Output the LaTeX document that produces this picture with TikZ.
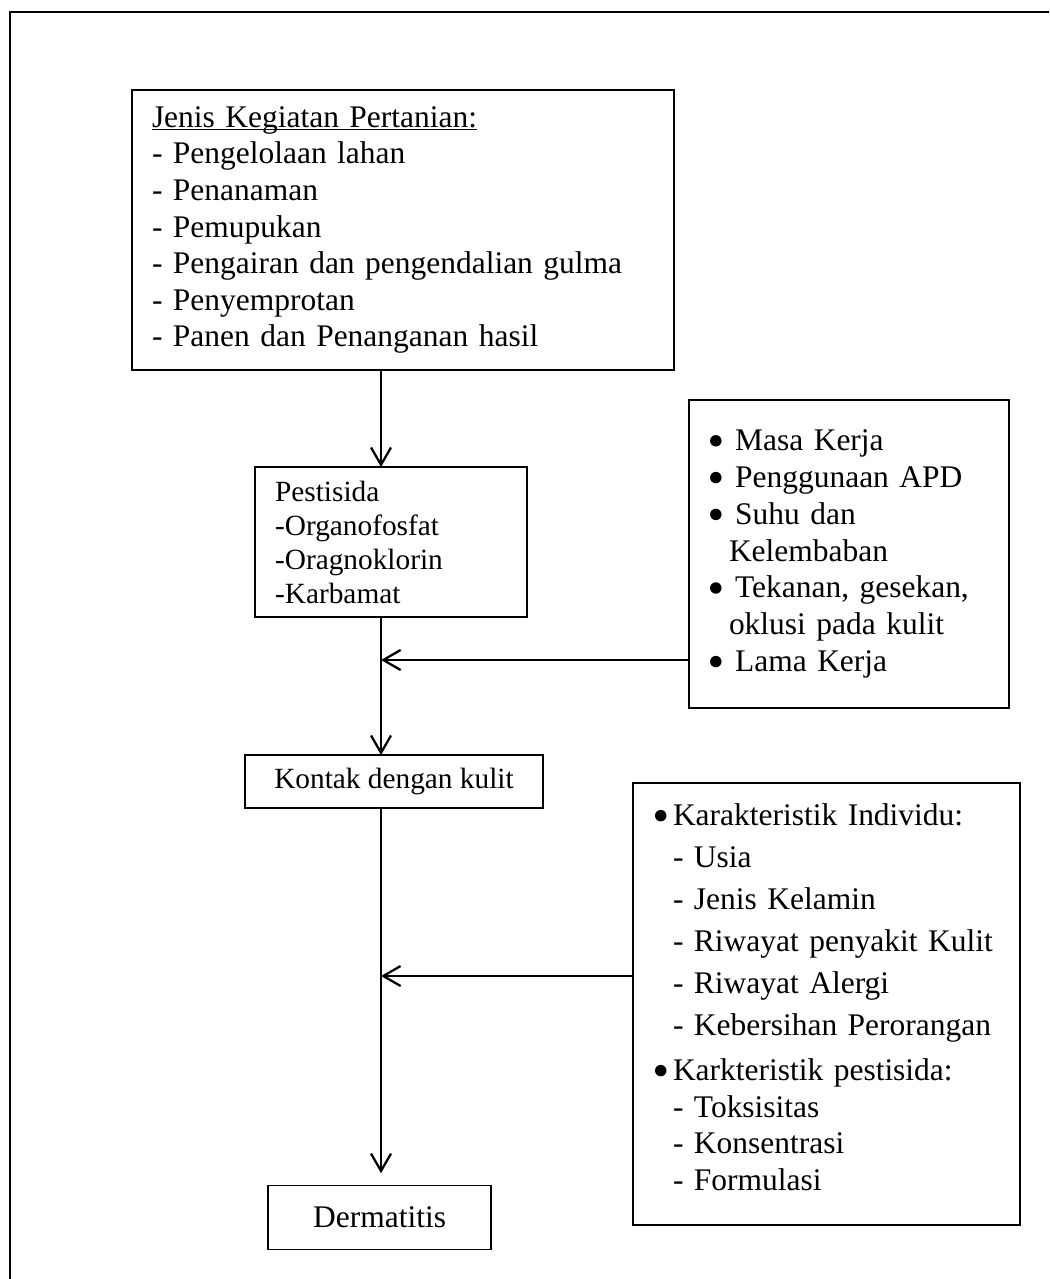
\documentclass[tikz,border=0pt]{standalone}
\usepackage{fontspec}
\setmainfont{Liberation Serif}
\usetikzlibrary{arrows.meta,positioning}

\newcommand\titleline[1]{\setbox0\hbox{#1}\rlap{\rule[-1pt]{\wd0}{.5pt}}#1}
\newcommand\bulletdot{\tikz[baseline=-3.7pt]\fill (0,0) circle (2.15pt);}

\begin{document}
\begin{tikzpicture}[
  x=0.375pt, y=-0.375pt,
  box/.style={draw,line width=.5pt,inner ysep=0pt,outer sep=0pt},
  listbox/.style={box,align=left},
  flow/.style={line width=.85pt,-{Straight Barb[length=6.5pt,width=7.5pt]}}
]
  \useasboundingbox (0,0) rectangle (1049,1279);
  \begin{scope}
    \clip (0,0) rectangle (1049,1279);
    \draw[line width=1.1pt] (10,12) rectangle (1080,1310);
  \end{scope}

  % main column
  \node[listbox,anchor=north west,text width=188.3pt,inner xsep=7.5pt,minimum height=105pt,
        font=\fontsize{11.8pt}{13.7pt}\selectfont] (jenis) at (132,90)
    {\titleline{Jenis Kegiatan Pertanian:}\\
     - Pengelolaan lahan\\
     - Penanaman\\
     - Pemupukan\\
     - Pengairan dan pengendalian gulma\\
     - Penyemprotan\\
     - Panen dan Penanganan hasil};
  \node[listbox,below=36.4pt of jenis,xshift=-4.5pt,text width=87pt,inner xsep=7.5pt,
        minimum height=56.25pt,font=\fontsize{11pt}{12.75pt}\selectfont] (pest)
    {Pestisida\\
     -Organofosfat\\
     -Oragnoklorin\\
     -Karbamat};
  \node[box,below=51.75pt of pest,xshift=1.1pt,minimum width=111.75pt,minimum height=19.9pt,
        font=\fontsize{11pt}{12.75pt}\selectfont] (kontak) {Kontak dengan kulit};
  \node[box,below=141.4pt of kontak,xshift=-5.4pt,minimum width=83.6pt,minimum height=24pt,
        font=\fontsize{11.8pt}{13.7pt}\selectfont] (derm) {Dermatitis};

  % side factors
  \node[listbox,anchor=north west,text width=104.2pt,inner xsep=7.9pt,minimum height=115.5pt,
        font=\fontsize{11.8pt}{13.8pt}\selectfont] (masa) at (689,400)
    {\makebox[9.4pt][l]{\bulletdot}Masa Kerja\\
     \makebox[9.4pt][l]{\bulletdot}Penggunaan APD\\
     \makebox[9.4pt][l]{\bulletdot}Suhu dan\\
     \hspace*{7.1pt}Kelembaban\\
     \makebox[9.4pt][l]{\bulletdot}Tekanan, gesekan,\\
     \hspace*{7.1pt}oklusi pada kulit\\
     \makebox[9.4pt][l]{\bulletdot}Lama Kerja};
  \node[listbox,anchor=north west,text width=128.6pt,inner xsep=8.25pt,minimum height=165.75pt,
        font=\fontsize{11.8pt}{13.75pt}\selectfont] (kar) at (633,783)
    {\makebox[6.75pt][l]{\bulletdot}Karakteristik Individu:\\[2pt]
     \hspace*{6.75pt}- Usia\\[2pt]
     \hspace*{6.75pt}- Jenis Kelamin\\[2pt]
     \hspace*{6.75pt}\mbox{- Riwayat penyakit Kulit}\\[2pt]
     \hspace*{6.75pt}- Riwayat Alergi\\[2pt]
     \hspace*{6.75pt}\mbox{- Kebersihan Perorangan}\\[3.1pt]
     \makebox[6.75pt][l]{\bulletdot}Karkteristik pestisida:\\
     \hspace*{6.75pt}- Toksisitas\\
     \hspace*{6.75pt}- Konsentrasi\\
     \hspace*{6.75pt}- Formulasi\rule[-5.2pt]{0pt}{0pt}};

  \coordinate (spine) at (381,0);
  \coordinate (tapA) at (381,660);
  \coordinate (tapB) at (381,976);

  \draw[flow] (jenis.south -| spine) -- (pest.north -| spine);
  \draw[flow] (pest.south -| spine) -- (kontak.north -| spine);
  \draw[flow,shorten >=4.5pt] (kontak.south -| spine) -- (derm.north -| spine);
  \draw[flow] (masa.west |- tapA) -- (tapA);
  \draw[flow] (kar.west |- tapB) -- (tapB);
\end{tikzpicture}
\end{document}
